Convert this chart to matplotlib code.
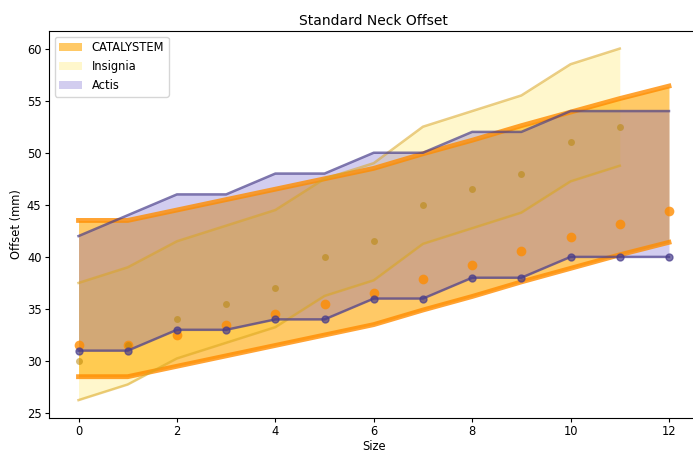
import matplotlib
matplotlib.use("Agg")
import matplotlib.pyplot as plt
import numpy as np

sizes = list(range(13))

cat_mid = [31.5, 31.5, 32.5, 33.5, 34.5, 35.5, 36.5, 37.9, 39.2, 40.6, 41.9, 43.2, 44.4]
cat_upper = [43.5, 43.5, 44.5, 45.5, 46.5, 47.5, 48.5, 49.9, 51.2, 52.6, 53.9, 55.2, 56.4]
cat_lower = [28.5, 28.5, 29.5, 30.5, 31.5, 32.5, 33.5, 34.9, 36.2, 37.6, 38.9, 40.2, 41.4]

ins_sizes = list(range(12))
ins_mid = [30, 31.5, 34, 35.5, 37, 40, 41.5, 45, 46.5, 48, 51, 52.5]
ins_upper = [37.5, 39, 41.5, 43, 44.5, 47.5, 49, 52.5, 54, 55.5, 58.5, 60]
ins_lower = [26.25, 27.75, 30.25, 31.75, 33.25, 36.25, 37.75, 41.25, 42.75, 44.25, 47.25, 48.75]

act_upper = [42, 44, 46, 46, 48, 48, 50, 50, 52, 52, 54, 54, 54]
act_lower = [31, 31, 33, 33, 34, 34, 36, 36, 38, 38, 40, 40, 40]

plt.rcParams['font.size'] = 8.3
plt.rcParams['xtick.major.size'] = 2.8
plt.rcParams['ytick.major.size'] = 2.8
plt.rcParams['xtick.major.pad'] = 2.4
plt.rcParams['ytick.major.pad'] = 2.6
plt.rcParams['axes.labelpad'] = 2.5
plt.rcParams['axes.titlepad'] = 4.5

fig = plt.figure(figsize=(6.93, 4.53), dpi=100)
ax = fig.add_axes([49/693, 1 - 417.7/453, 649.5/693, (417.7 - 31)/453])

# CATALYSTEM
ax.fill_between(sizes, cat_lower, cat_upper, color='orange', alpha=0.6, label='CATALYSTEM', linewidth=0)
ax.plot(sizes, cat_upper, color='darkorange', alpha=0.8, lw=3.5)
ax.plot(sizes, cat_lower, color='darkorange', alpha=0.8, lw=3.5)
ax.plot(sizes, cat_mid, 'o', color='darkorange', alpha=0.8, ms=7, mew=0)

# Insignia
ax.fill_between(ins_sizes, ins_lower, ins_upper, color='gold', alpha=0.2, label='Insignia', linewidth=0)
ax.plot(ins_sizes, ins_upper, color='goldenrod', alpha=0.55, lw=1.8)
ax.plot(ins_sizes, ins_lower, color='goldenrod', alpha=0.55, lw=1.8)
ax.plot(ins_sizes, ins_mid, 'o', color='darkgoldenrod', alpha=0.55, ms=5, mew=0)

# Actis
ax.fill_between(sizes, act_lower, act_upper, color='slateblue', alpha=0.3, label='Actis', linewidth=0)
ax.plot(sizes, act_upper, color='darkslateblue', alpha=0.7, lw=1.8)
ax.plot(sizes, act_lower, color='darkslateblue', alpha=0.7, lw=1.8, marker='o', ms=5)

ax.set_xlim(-0.6, 12.6)
ax.set_title('Standard Neck Offset', fontsize=10)
ax.set_xlabel('Size', labelpad=1.5)
ax.set_ylabel('Offset (mm)')
ax.legend(loc='upper left')

fig.savefig('out.png', dpi=100)
